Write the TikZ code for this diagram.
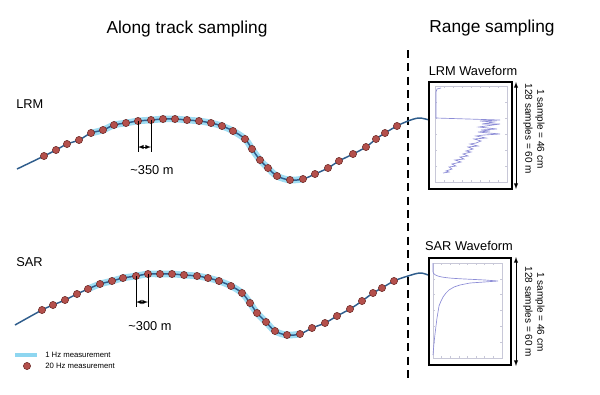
\documentclass[tikz,border=0pt]{standalone}
\usepackage{fontspec}
\setmainfont{Liberation Sans}
\usetikzlibrary{arrows}
\definecolor{trackblue}{HTML}{2F5D8C}
\definecolor{halocyan}{HTML}{8ED6F0}
\definecolor{dotred}{HTML}{B4504C}
\definecolor{dotedge}{HTML}{6E2C29}
\definecolor{wavecol}{HTML}{8C8CD6}
\definecolor{gridcol}{HTML}{C8C8D8}

\begin{document}
\begin{tikzpicture}[x=0.75pt,y=-0.75pt,every node/.style={inner sep=0pt},
  track/.style={trackblue,line width=1.1pt},
  halo/.style={halocyan,line width=5pt,line cap=round,opacity=0.85},
  dot/.style={circle,fill=dotred,draw=dotedge,line width=0.4pt,minimum size=5.4pt},
  wbox/.style={draw,line width=1.5pt,minimum width=62pt,minimum height=80pt},
  wave/.style={wavecol,line width=0.5pt},
  title/.style={font=\fontsize{13}{15}\selectfont},
  lab/.style={font=\fontsize{9.6}{11}\selectfont},
  side/.style={font=\fontsize{7.5}{9}\selectfont,rotate=-90,align=center}]
\useasboundingbox (0,0) rectangle (600,394);

% headings
\node[title] (h1) at (187,29) {Along track sampling};
\node[title] (h2) at (492,28) {Range sampling};
\draw[line width=1.5pt,dash pattern=on 6pt off 4pt] (408,50) -- (408,382);

% LRM track
\node[lab,anchor=west] (lrm) at (16,104) {LRM};
\draw[halo] plot[smooth,tension=0.6] coordinates {(91,133) (103,130) (114,125) (126,123)
  (138,121) (151,120) (163,119) (175,119) (187,120) (199,121) (211,123) (222,126) (233,131)
  (245,139) (252,149) (260,160) (268,168) (277,176) (290,180) (303,179)};
\draw[track] plot[smooth,tension=0.6] coordinates {(17,169) (44,156) (56,150) (67,144) (79,140)
  (91,133) (103,130) (114,125) (126,123) (138,121) (151,120) (163,119) (175,119) (187,120)
  (199,121) (211,123) (222,126) (233,131) (245,139) (252,149) (260,160) (268,168) (277,176)
  (290,180) (303,179) (315,174) (328,168) (339,161) (353,154) (366,147) (376,139) (385,133)
  (397,126) (408,121) (419,118) (429,120)};
\foreach \x/\y in {44/156,56/150,67/144,79/140,91/133,103/130,114/125,126/123,138/121,151/120,
  163/119,175/119,187/120,199/121,211/123,222/126,233/131,245/139,252/149,260/160,268/168,
  277/176,290/180,303/179,315/174,328/168,339/161,353/154,366/147,376/139,385/133,397/126}
  \node[dot] at (\x,\y) {};
\coordinate (la) at (138,121);
\coordinate (lb) at (151,120);
\coordinate (la') at (138,152);
\coordinate (lb') at (151,152);
\draw[line width=0.5pt] (la) -- (la') (lb) -- (lb');
\draw[latex-latex,line width=0.5pt] (138,147) -- (151,147);
\node[lab] (d1) at (152,170) {\textasciitilde350 m};

% LRM waveform
\node[wbox] (lrmbox) at (470.5,135.5) {};
\node[lab] (lrmt) at (473,71) {LRM Waveform};
\draw[gridcol,line width=0.3pt] (435,86) rectangle (507,182);
\foreach \i in {0,...,8} \draw[gridcol,line width=0.3pt] (435+9*\i,86) -- (435+9*\i,88) (435+9*\i,182) -- (435+9*\i,180);
\foreach \i in {0,...,6} \draw[gridcol,line width=0.3pt] (435,86+16*\i) -- (437,86+16*\i) (507,86+16*\i) -- (505,86+16*\i);
\draw[wave] (441,88) -- (437,89) -- (436,92) -- (436,118) -- (500,120) -- (480,121) -- (494,122)
  -- (482,124) -- (500,124) -- (486,126) -- (479,127) -- (497,129) -- (481,130) -- (490,131)
  -- (478,132) -- (500,134) -- (484,135) -- (476,136) -- (486,138) -- (474,139) -- (481,141)
  -- (476,143) -- (470,144) -- (478,146) -- (468,147) -- (473,149) -- (466,151) -- (471,152)
  -- (463,154) -- (468,156) -- (460,157) -- (464,159) -- (455,160) -- (461,162) -- (452,164)
  -- (456,166) -- (449,167) -- (452,169) -- (446,171) -- (449,172) -- (443,173);
\coordinate (lt) at (516,82);
\coordinate (lbm) at (516,189);
\draw[latex-latex,line width=0.5pt] (lt) -- (lbm);
\node[side] (lrms) at (534,129) {1 sample = 46 cm\\128 samples = 60 m};

% SAR track
\node[lab,anchor=west] (sar) at (16,262) {SAR};
\draw[halo] plot[smooth,tension=0.6] coordinates {(88,289) (100,284) (112,281) (123,278)
  (136,276) (148,274) (160,274) (172,274) (184,275) (197,276) (208,278) (219,281) (231,286)
  (242,293) (250,303) (257,313) (266,322) (275,331) (287,335) (300,334)};
\draw[track] plot[smooth,tension=0.6] coordinates {(15,325) (42,310) (53,305) (65,300) (77,294)
  (88,289) (100,284) (112,281) (123,278) (136,276) (148,274) (160,274) (172,274) (184,275)
  (197,276) (208,278) (219,281) (231,286) (242,293) (250,303) (257,313) (266,322) (275,331)
  (287,335) (300,334) (312,328) (325,323) (337,316) (350,309) (362,301) (373,293) (382,288)
  (394,281) (408,276) (420,273) (428,275)};
\foreach \x/\y in {42/310,53/305,65/300,77/294,88/289,100/284,112/281,123/278,136/276,148/274,
  160/274,172/274,184/275,197/276,208/278,219/281,231/286,242/293,250/303,257/313,266/322,
  275/331,287/335,300/334,312/328,325/323,337/316,350/309,362/301,373/293,382/288,394/281}
  \node[dot] at (\x,\y) {};
\coordinate (sa) at (136,276);
\coordinate (sb) at (148,274);
\coordinate (sa') at (136,307);
\coordinate (sb') at (148,307);
\draw[line width=0.5pt] (sa) -- (sa') (sb) -- (sb');
\draw[latex-latex,line width=0.5pt] (136,302) -- (148,302);
\node[lab] (d2) at (150,326) {\textasciitilde300 m};

% SAR waveform
\node[wbox] (sarbox) at (470,311.5) {};
\node[lab] (sart) at (469,246) {SAR Waveform};
\draw[gridcol,line width=0.3pt] (433,263) rectangle (502,358);
\foreach \i in {0,...,8} \draw[gridcol,line width=0.3pt] (433+8.6*\i,263) -- (433+8.6*\i,265) (433+8.6*\i,358) -- (433+8.6*\i,356);
\foreach \i in {0,...,6} \draw[gridcol,line width=0.3pt] (433,263+15.8*\i) -- (435,263+15.8*\i) (502,263+15.8*\i) -- (500,263+15.8*\i);
\draw[wave] (433,263) -- (433,272) .. controls (434,277) and (445,278) .. (465,279)
  -- (485,280) -- (498,281) -- (484,282) -- (470,283) -- (460,285) -- (454,287) -- (449,290)
  -- (446,293) -- (443,297) -- (441,301) -- (439,306) -- (438,312) -- (437,318) -- (436,326)
  -- (435,334) -- (434,343) -- (433,355);
\coordinate (st) at (516,257);
\coordinate (sbm) at (516,366);
\draw[latex-latex,line width=0.5pt] (st) -- (sbm);
\node[side] (sars) at (534,312) {1 sample = 46 cm\\128 samples = 60 m};

% legend
\coordinate (k1) at (15,355);
\coordinate (k2) at (37,355);
\draw[halocyan,line width=3pt] (k1) -- (k2);
\node[anchor=west,font=\fontsize{5.8}{7}\selectfont] (leg1) at (45,355) {1 Hz measurement};
\node[dot] (kd) at (27,366) {};
\node[anchor=west,font=\fontsize{5.8}{7}\selectfont] (leg2) at (45,366) {20 Hz measurement};
\end{tikzpicture}
\end{document}
